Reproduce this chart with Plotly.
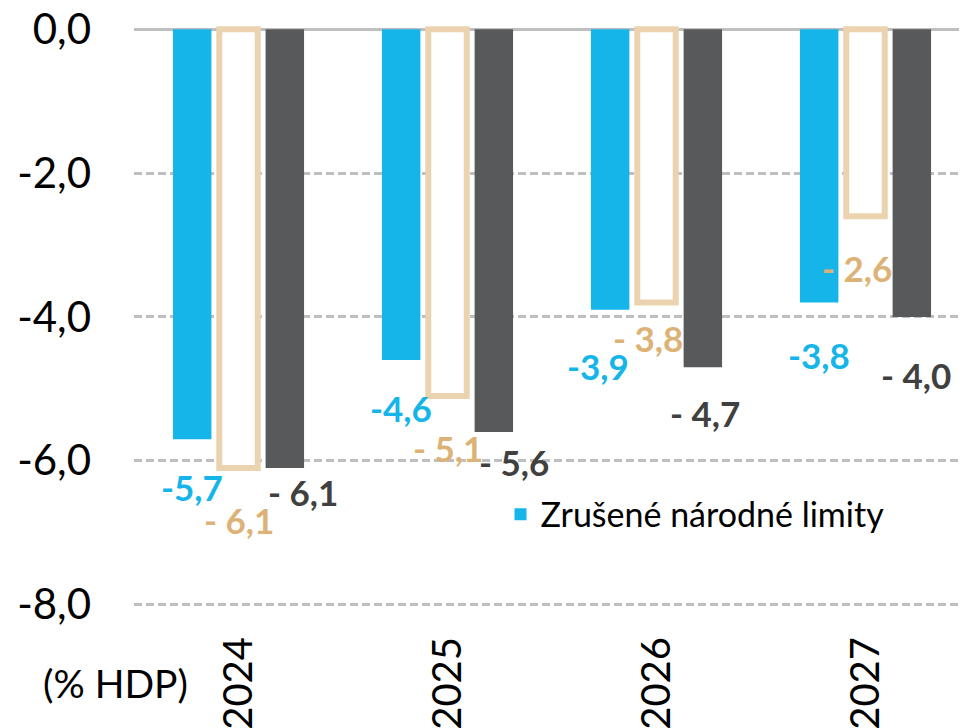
import plotly.graph_objects as go

years = ["2024", "2025", "2026", "2027"]
zrusene = [-5.7, -4.6, -3.9, -3.8]          # blue
beige_vals = [-6.1, -5.1, -3.8, -2.6]       # beige outline
dark_vals = [-6.1, -5.6, -4.7, -4.0]        # dark grey
series_names = ["Zrušené národné limity", "Scenár B", "Scenár C"]
y_ticks = [0, -2, -4, -6, -8]
y_tick_text = ["0,0", "-2,0", "-4,0", "-6,0", "-8,0"]
unit_label = "(% HDP)"

BLUE = "#15B5EA"
BEIGE = "#EBD3B0"
BEIGE_TXT = "#DDB276"
DARK = "#58595B"
DARK_TXT = "#404040"
FONT = "Lato"

fig = go.Figure()
fig.add_bar(x=years, y=zrusene, name=series_names[0], marker=dict(color=BLUE, line=dict(width=0)),
            showlegend=True)
fig.add_bar(x=years, y=beige_vals, name=series_names[1],
            marker=dict(color="white", line=dict(color=BEIGE, width=6)), showlegend=False)
fig.add_bar(x=years, y=dark_vals, name=series_names[2], marker=dict(color=DARK, line=dict(width=0)),
            showlegend=False)

def fmt(v, spaced):
    s = f"{v:.1f}".replace(".", ",")
    if spaced:
        s = s.replace("-", "- ")
    return "<b>" + s + "</b>"

slot = 46.3
# label offsets (style): (xshift extra, yshift) per series per year
blue_off = [(0, -48), (0, -48), (-12, -56), (0, -52)]
beige_off = [(0, -52), (0, -52), (-9, -35), (-9, -52)]
dark_off = [(18, -24), (20, -30), (2, -46), (4, -58)]

for vals, offs, base, color, spaced in [
    (zrusene, blue_off, -slot, BLUE, False),
    (beige_vals, beige_off, 0, BEIGE_TXT, True),
    (dark_vals, dark_off, slot, DARK_TXT, True),
]:
    for i, v in enumerate(vals):
        dx, dy = offs[i]
        fig.add_annotation(x=i, y=v, xref="x", yref="y", text=fmt(v, spaced), showarrow=False,
                           xshift=base + dx, yshift=dy, xanchor="center", yanchor="middle",
                           font=dict(family=FONT, size=35, color=color))

fig.add_annotation(x=-0.0228, y=-0.1064, xref="paper", yref="paper", text=unit_label,
                   showarrow=False, xanchor="center", yanchor="middle",
                   font=dict(family=FONT, size=39, color="black"))

fig.update_layout(
    width=959, height=720,
    margin=dict(l=126, r=0, t=13.8, b=108.6, autoexpand=False),
    paper_bgcolor="white", plot_bgcolor="white",
    barmode="group", bargap=0.335, bargroupgap=0.17,
    font=dict(family=FONT, color="black"),
    legend=dict(x=0.44, y=0.175, xanchor="left", yanchor="middle", bgcolor="rgba(0,0,0,0)",
                font=dict(family=FONT, size=34, color="black"), itemwidth=30),
    xaxis=dict(type="category", range=[-0.5, 3.4856], tickangle=-90, showgrid=False, showline=False,
               ticks="", automargin=False, ticklabeloverflow="allow",
               tickfont=dict(family=FONT, size=40, color="black"), ticklabelstandoff=9),
    yaxis=dict(range=[-8.2, 0.1], tickvals=y_ticks, ticktext=y_tick_text, automargin=False,
               showgrid=True, gridcolor="#BFBFBF", gridwidth=2.5, griddash="8px,4px",
               zeroline=True, zerolinecolor="#BFBFBF", zerolinewidth=3,
               showline=False, ticks="", ticklabelstandoff=42, ticklabeloverflow="allow",
               tickfont=dict(family=FONT, size=42, color="black")),
)

fig.write_html("out.html")
